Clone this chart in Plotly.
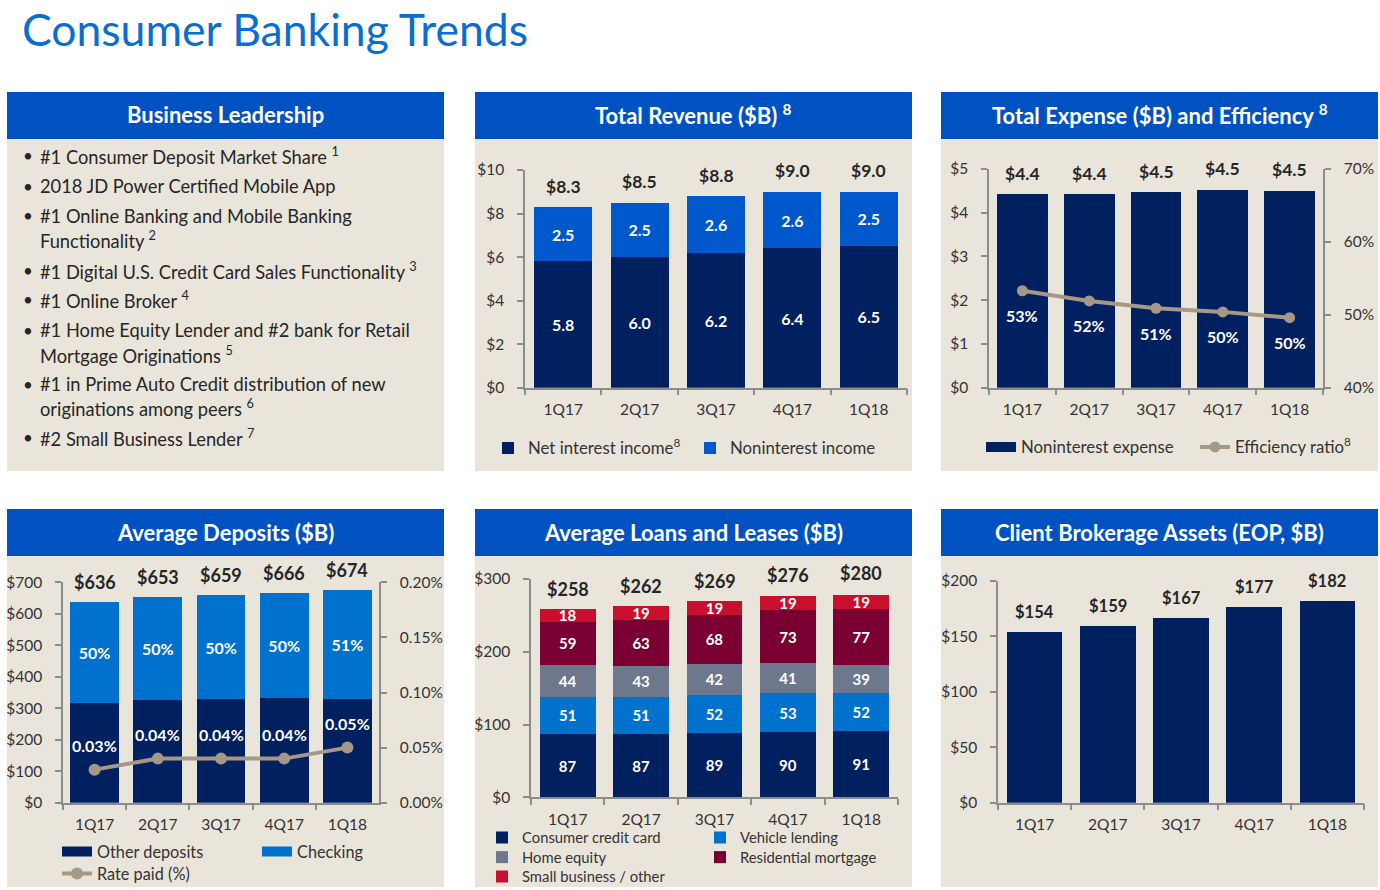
import plotly.graph_objects as go

W, H = 1380, 890
def px(x): return x / W
def py(y): return 1 - y / H

FONT = "Lato"
NAVY = "#002060"
HEADER = "#0052C3"
BLUE_MID = "#0058CC"
BLUE_LIGHT = "#0072CE"
GRAY_BLUE = "#6D788C"
MAROON = "#7A0032"
RED = "#C8102E"
LINE = "#A69886"
PANEL = "#EAE5DB"
AXIS = "#8C8C8C"
TEXT = "#333333"
DARK = "#262626"
TITLE = "#0A6ED1"

# ---------------- data ----------------
quarters = ["1Q17", "2Q17", "3Q17", "4Q17", "1Q18"]

rev_nii = [5.8, 6.0, 6.2, 6.4, 6.5]
rev_nonint = [2.5, 2.5, 2.6, 2.6, 2.5]
rev_total = [8.3, 8.5, 8.8, 9.0, 9.0]

exp_nonint = [4.42, 4.42, 4.47, 4.53, 4.50]
eff_ratio = [53.3, 51.9, 50.9, 50.4, 49.6]

dep_other = [318, 326, 329, 333, 330]
dep_checking = [318, 327, 330, 333, 344]
dep_total = [636, 653, 659, 666, 674]
dep_checking_share = [50, 50, 50, 50, 51]
dep_rate = [0.03, 0.04, 0.04, 0.04, 0.05]

loan_card = [87, 87, 89, 90, 91]
loan_vehicle = [51, 51, 52, 53, 52]
loan_home_eq = [44, 43, 42, 41, 39]
loan_mortgage = [59, 63, 68, 73, 77]
loan_small_biz = [18, 19, 19, 19, 19]
loan_total = [258, 262, 269, 276, 280]

brokerage = [154, 159, 167, 177, 182]

leadership = [
    ["#1 Consumer Deposit Market Share <sup>1</sup>"],
    ["2018 JD Power Certified Mobile App"],
    ["#1 Online Banking and Mobile Banking", "Functionality <sup>2</sup>"],
    ["#1 Digital U.S. Credit Card Sales Functionality <sup>3</sup>"],
    ["#1 Online Broker <sup>4</sup>"],
    ["#1 Home Equity Lender and #2 bank for Retail", "Mortgage Originations <sup>5</sup>"],
    ["#1 in Prime Auto Credit distribution of new", "originations among peers <sup>6</sup>"],
    ["#2 Small Business Lender <sup>7</sup>"],
]
leadership_y = [[155.5], [186], [216, 239.5], [270], [300], [330, 354], [384, 408], [437.5]]

# ---------------- figure ----------------
fig = go.Figure()

def bar(x, y, name, color, xa, ya, text=None, legend=None, showlegend=False, width=0.76, size=16):
    return go.Bar(
        x=x, y=y, name=name, marker=dict(color=color, line=dict(width=0)),
        xaxis=xa, yaxis=ya, text=text, textposition="inside" if text else "none",
        insidetextanchor="middle", textangle=0, constraintext="none",
        textfont=dict(family=FONT, size=size, color="white", weight="bold"),
        legend=legend, showlegend=showlegend, width=width, hoverinfo="x+y+name",
    )

def swatch_line(name, color, legend, width=10):
    return go.Scatter(x=[None], y=[None], mode="lines", name=name,
                      line=dict(color=color, width=width), legend=legend,
                      showlegend=True, hoverinfo="skip")

# Revenue
fig.add_trace(bar(quarters, rev_nii, "Net interest income<sup>8</sup>", NAVY, "x", "y",
                  text=[f"{v:.1f}" for v in rev_nii], legend="legend", showlegend=True))
fig.add_trace(bar(quarters, rev_nonint, "Noninterest income", BLUE_MID, "x", "y",
                  text=[f"{v:.1f}" for v in rev_nonint], legend="legend", showlegend=True))

# Expense
fig.add_trace(bar(quarters, exp_nonint, "Noninterest expense", NAVY, "x2", "y2"))
fig.add_trace(go.Scatter(x=quarters, y=eff_ratio, name="Efficiency ratio<sup>8</sup>",
                         mode="lines+markers", line=dict(color=LINE, width=4),
                         marker=dict(color=LINE, size=11), xaxis="x2", yaxis="y3",
                         showlegend=False))
fig.add_trace(swatch_line("Noninterest expense", NAVY, "legend2"))
fig.add_trace(go.Scatter(x=[None], y=[None], name="Efficiency ratio<sup>8</sup>",
                         mode="lines+markers", line=dict(color=LINE, width=4),
                         marker=dict(color=LINE, size=11), legend="legend2",
                         showlegend=True, hoverinfo="skip"))

# Deposits
fig.add_trace(bar(quarters, dep_other, "Other deposits", NAVY, "x3", "y4", width=0.775))
fig.add_trace(bar(quarters, dep_checking, "Checking", BLUE_LIGHT, "x3", "y4",
                  text=[f"{v}%" for v in dep_checking_share], width=0.775))
fig.add_trace(go.Scatter(x=quarters, y=dep_rate, name="Rate paid (%)",
                         mode="lines+markers", line=dict(color=LINE, width=4),
                         marker=dict(color=LINE, size=12), xaxis="x3", yaxis="y5",
                         showlegend=False))
fig.add_trace(swatch_line("Other deposits", NAVY, "legend3"))
fig.add_trace(swatch_line("Checking", BLUE_LIGHT, "legend3"))
fig.add_trace(go.Scatter(x=[None], y=[None], name="Rate paid (%)",
                         mode="lines+markers", line=dict(color=LINE, width=4),
                         marker=dict(color=LINE, size=12), legend="legend4",
                         showlegend=True, hoverinfo="skip"))

# Loans
loan_series = [
    ("Consumer credit card", loan_card, NAVY, "legend5"),
    ("Vehicle lending", loan_vehicle, BLUE_LIGHT, "legend5"),
    ("Home equity", loan_home_eq, GRAY_BLUE, "legend6"),
    ("Residential mortgage", loan_mortgage, MAROON, "legend6"),
    ("Small business / other", loan_small_biz, RED, "legend7"),
]
for name, vals, col, lg in loan_series:
    fig.add_trace(bar(quarters, vals, name, col, "x4", "y6", text=[str(v) for v in vals],
                      legend=lg, showlegend=True, size=15))

# Brokerage
fig.add_trace(bar(quarters, brokerage, "Client brokerage assets", NAVY, "x5", "y7"))

# ---------------- axes ----------------
tickfont = dict(family=FONT, size=15.5, color=TEXT)

def xax(x0, x1, anchor):
    return dict(domain=[px(x0), px(x1)], anchor=anchor, type="category",
                categoryorder="array", categoryarray=quarters,
                showline=True, linecolor=AXIS, linewidth=1.5,
                ticks="outside", ticklen=6, tickcolor=AXIS, tickwidth=1.5,
                tickson="boundaries", showgrid=False, zeroline=False,
                tickfont=tickfont, ticklabelstandoff=7, fixedrange=True)

def yax(top, bottom, rng, dtick, anchor, prefix="", suffix="", fmt=None,
        side="left", overlaying=None):
    d = dict(domain=[py(bottom), py(top)], anchor=anchor, range=rng, dtick=dtick,
             tick0=rng[0], showline=True, linecolor=AXIS, linewidth=1.5,
             ticks="outside", ticklen=6, tickcolor=AXIS, tickwidth=1.5,
             showgrid=False, zeroline=False, tickfont=tickfont,
             tickprefix=prefix, ticksuffix=suffix, side=side,
             ticklabelstandoff=10, fixedrange=True)
    if fmt:
        d["tickformat"] = fmt
    if overlaying:
        d["overlaying"] = overlaying
    return d

layout_axes = dict(
    xaxis=xax(525, 907, "y"),
    yaxis=yax(170, 387.7, [0, 10], 2, "x", prefix="$"),
    xaxis2=xax(989, 1323, "y2"),
    yaxis2=yax(169, 387.7, [0, 5], 1, "x2", prefix="$"),
    yaxis3=yax(169, 387.7, [40, 70], 10, "x2", suffix="%", side="right", overlaying="y2"),
    xaxis3=xax(63, 379, "y4"),
    yaxis4=yax(582.3, 802.7, [0, 700], 100, "x3", prefix="$"),
    yaxis5=yax(582.3, 802.7, [0, 0.2], 0.05, "x3", suffix="%", fmt=".2f",
               side="right", overlaying="y4"),
    xaxis4=xax(531, 898, "y6"),
    yaxis6=yax(579, 797.3, [0, 300], 100, "x4", prefix="$"),
    xaxis5=xax(998, 1364, "y7"),
    yaxis7=yax(581, 802.7, [0, 200], 50, "x5", prefix="$"),
)

# ---------------- panels ----------------
panels = [
    (7, 444, 92, 471, "Business Leadership"),
    (475, 912, 92, 471, "Total Revenue ($B) <sup>8</sup>"),
    (941, 1378, 92, 471, "Total Expense ($B) and Efficiency <sup>8</sup>"),
    (7, 444, 509, 887, "Average Deposits ($B)"),
    (475, 912, 509, 887, "Average Loans and Leases ($B)"),
    (941, 1378, 509, 887, "Client Brokerage Assets (EOP, $B)"),
]
shapes = []
annotations = []
for x0, x1, y0, y1, title in panels:
    shapes.append(dict(type="rect", xref="paper", yref="paper", x0=px(x0), x1=px(x1),
                       y0=py(y1), y1=py(y0), fillcolor=PANEL, line=dict(width=0), layer="below"))
    shapes.append(dict(type="rect", xref="paper", yref="paper", x0=px(x0), x1=px(x1),
                       y0=py(y0 + 47), y1=py(y0), fillcolor=HEADER, line=dict(width=0), layer="below"))
    annotations.append(dict(xref="paper", yref="paper", x=px((x0 + x1) / 2), y=py(y0 + 23),
                            text=f"<b>{title}</b>", showarrow=False, xanchor="center", yanchor="middle",
                            font=dict(family=FONT, size=22, color="white")))

# main title
annotations.append(dict(xref="paper", yref="paper", x=px(20), y=py(0), text="Consumer Banking Trends",
                        showarrow=False, xanchor="left", yanchor="top",
                        font=dict(family=FONT, size=44.5, color=TITLE)))

# leadership bullets
for lines, ys in zip(leadership, leadership_y):
    annotations.append(dict(xref="paper", yref="paper", x=px(21), y=py(ys[0]), text="•",
                            showarrow=False, xanchor="left", yanchor="middle",
                            font=dict(family=FONT, size=17, color=DARK)))
    for t, yy in zip(lines, ys):
        annotations.append(dict(xref="paper", yref="paper", x=px(37.5), y=py(yy), text=t,
                                showarrow=False, xanchor="left", yanchor="middle",
                                font=dict(family=FONT, size=18.3, color=DARK)))

def totals(vals, xref, yref, fmt, size, shift):
    for q, v in zip(quarters, vals):
        annotations.append(dict(x=q, y=v, xref=xref, yref=yref, text=f"<b>{fmt(v)}</b>",
                                showarrow=False, yanchor="middle", yshift=shift,
                                font=dict(family=FONT, size=size, color=DARK)))

totals(rev_total, "x", "y", lambda v: f"${v:.1f}", 17.5, 21)
totals(exp_nonint, "x2", "y2", lambda v: f"${v:.1f}", 17.5, 21)
totals(dep_total, "x3", "y4", lambda v: f"${v}", 18, 20)
totals(loan_total, "x4", "y6", lambda v: f"${v}", 18, 21)
totals(brokerage, "x5", "y7", lambda v: f"${v}", 16.5, 20)

for q, v in zip(quarters, eff_ratio):
    annotations.append(dict(x=q, y=v, xref="x2", yref="y3", text=f"<b>{v:.0f}%</b>",
                            showarrow=False, yanchor="middle", yshift=-25,
                            font=dict(family=FONT, size=16, color="white")))
for q, v in zip(quarters, dep_rate):
    annotations.append(dict(x=q, y=v, xref="x3", yref="y5", text=f"<b>{v:.2f}%</b>",
                            showarrow=False, yanchor="middle", yshift=24,
                            font=dict(family=FONT, size=16, color="white")))

def legend(x, y, size, entrywidth):
    return dict(x=px(x), y=py(y), xref="container", yref="container",
                xanchor="left", yanchor="middle", orientation="h",
                entrywidth=entrywidth, entrywidthmode="pixels", bgcolor="rgba(0,0,0,0)",
                borderwidth=0, font=dict(family=FONT, size=size, color=TEXT),
                traceorder="normal", itemclick=False, itemdoubleclick=False)

fig.update_layout(
    width=W, height=H, margin=dict(l=0, r=0, t=0, b=0, autoexpand=False),
    paper_bgcolor="white", plot_bgcolor="rgba(0,0,0,0)",
    font=dict(family=FONT, color=TEXT),
    barmode="stack", bargap=0.24,
    shapes=shapes, annotations=annotations,
    showlegend=True,
    legend=legend(488, 448, 16.8, 157),
    legend2=legend(981, 447, 16.8, 169),
    legend3=legend(57, 852, 16.3, 155),
    legend4=legend(57, 874, 16.3, 155),
    legend5=legend(482, 838, 14.8, 173),
    legend6=legend(482, 857.5, 14.8, 173),
    legend7=legend(482, 877, 14.8, 173),
    **layout_axes,
)

fig.write_html("out.html")
